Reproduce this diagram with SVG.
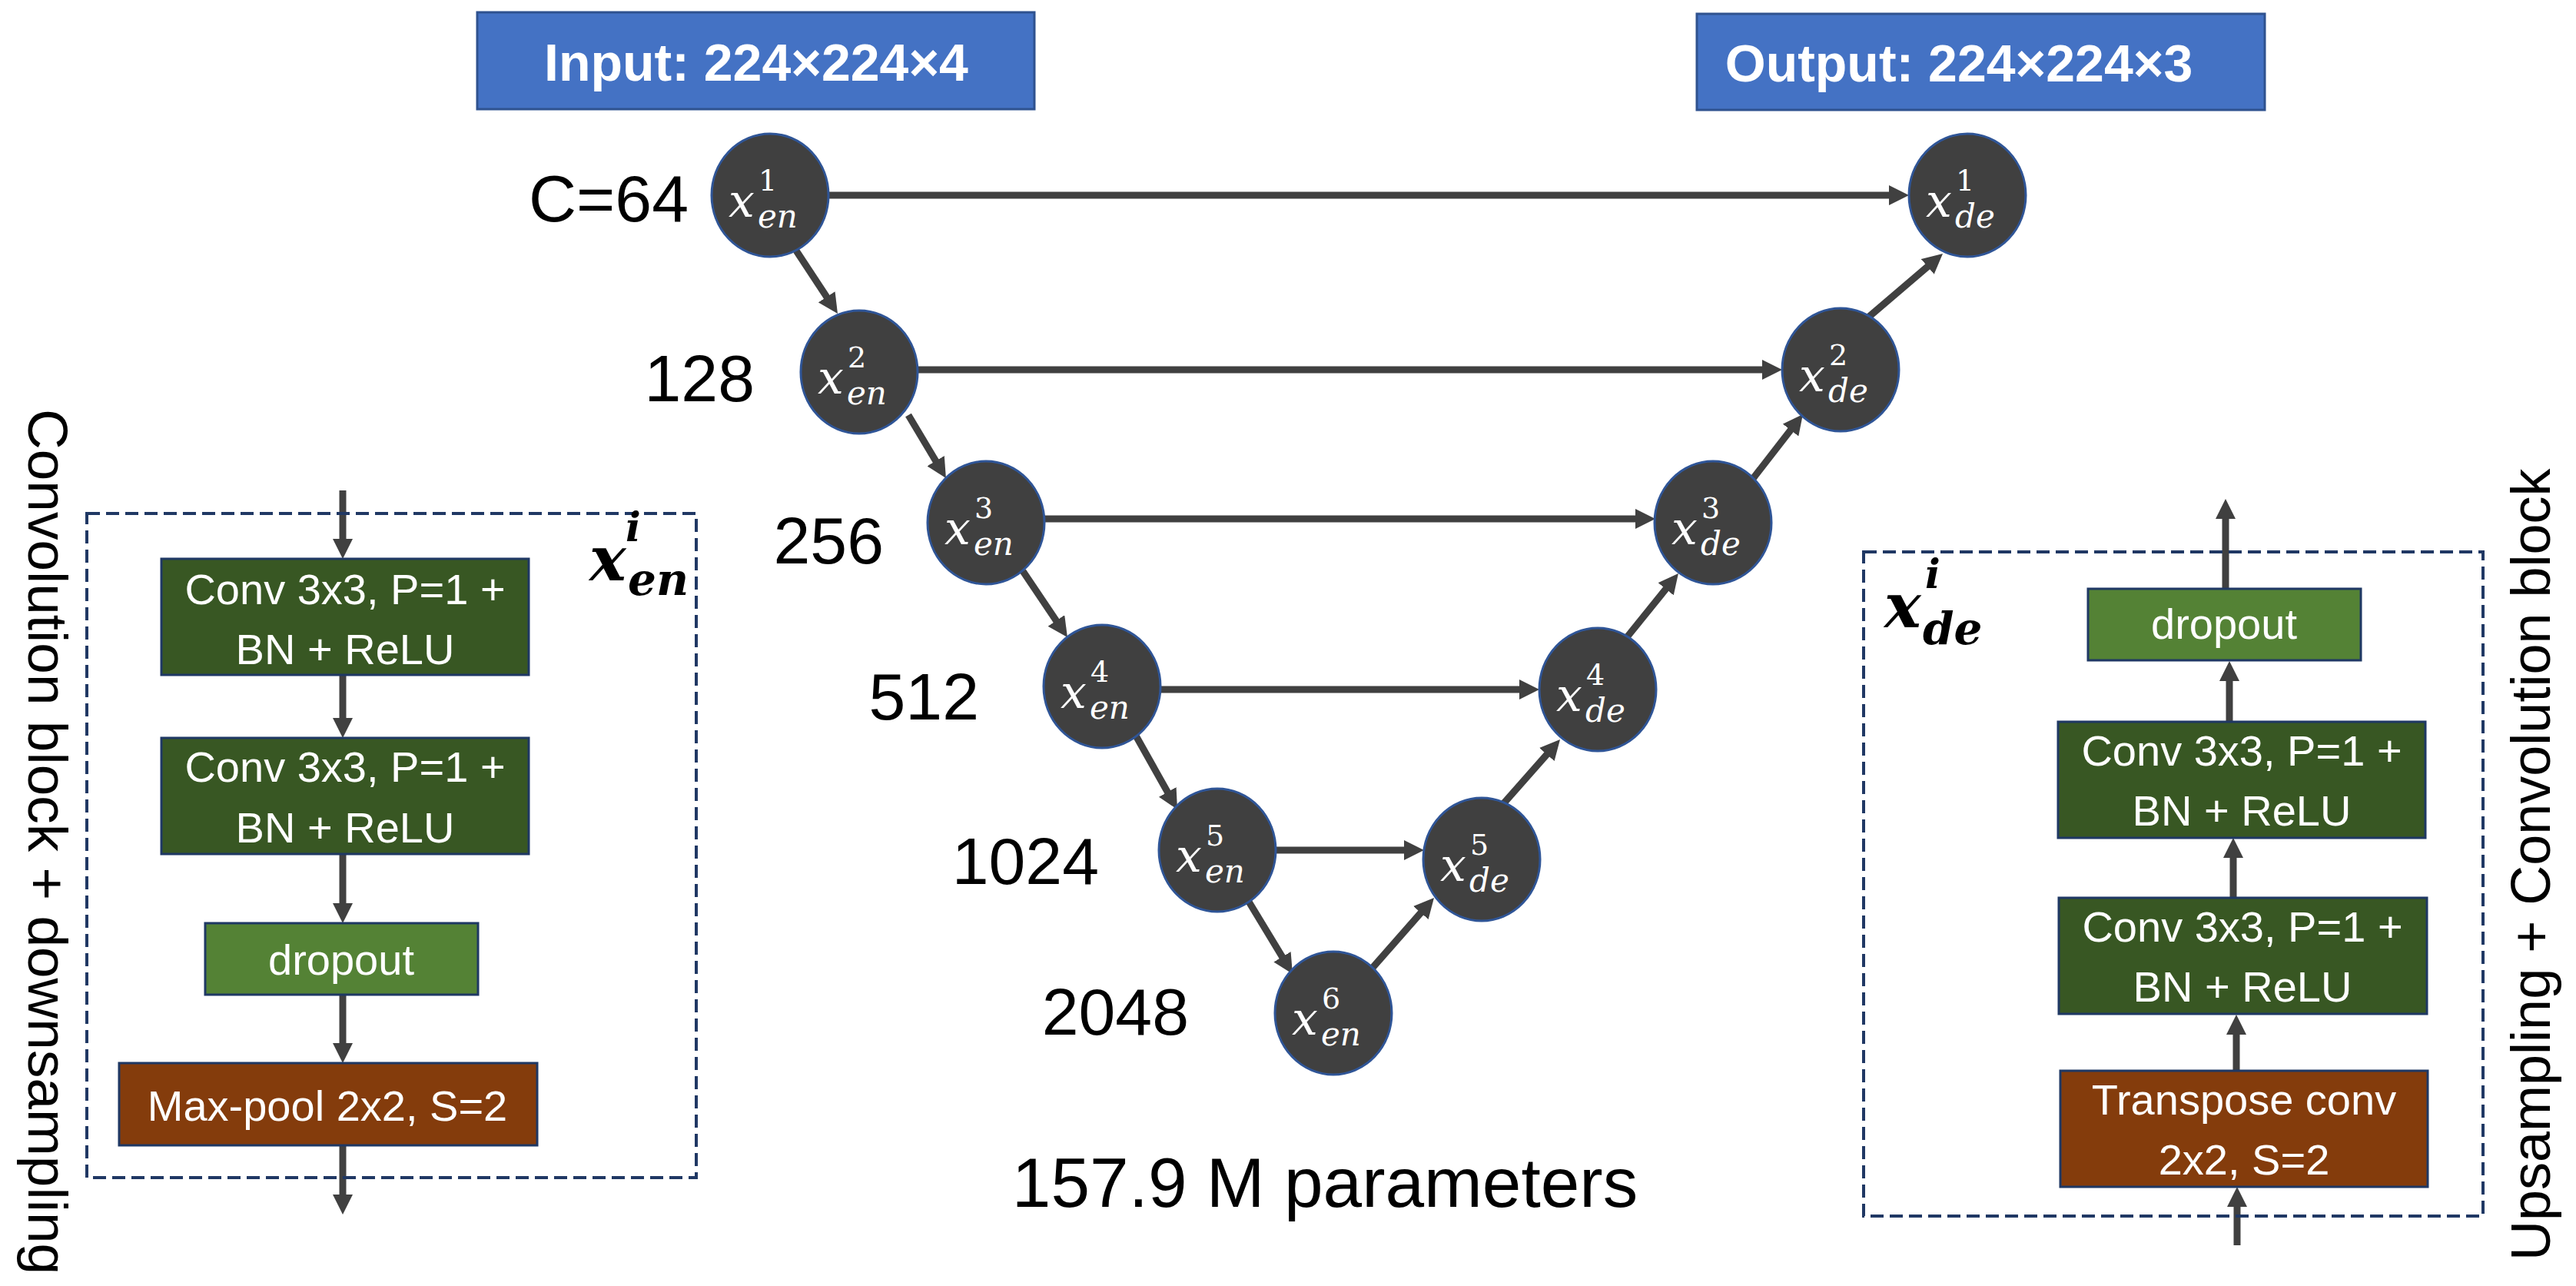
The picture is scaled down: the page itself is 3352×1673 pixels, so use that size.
<svg xmlns="http://www.w3.org/2000/svg" width="3352" height="1673" viewBox="0 0 3352 1673">
<style>
.io{fill:#4472C4;stroke:#2F528F;stroke-width:3}
.iot{font-family:"Liberation Sans",Arial,sans-serif;font-weight:bold;font-size:68px;fill:#fff}
.nd{fill:#404040;stroke:#2F5597;stroke-width:3}
.nx{font-family:"DejaVu Serif",serif;font-style:italic;font-size:60px;fill:#fff}
.ns{font-family:"DejaVu Serif",serif;font-style:italic;font-size:42px;fill:#fff}
.nn{font-family:"DejaVu Serif",serif;font-size:38px;fill:#fff}
.lbl{font-family:"Liberation Sans",Arial,sans-serif;font-size:86px;fill:#000}
.conv{fill:#385723;stroke:#1F3864;stroke-width:3}
.drop{fill:#548235;stroke:#1F3864;stroke-width:3}
.pool{fill:#843C0C;stroke:#1F3864;stroke-width:3}
.bt{font-family:"Liberation Sans",Arial,sans-serif;font-size:56px;fill:#fff;text-anchor:middle}
.dash{fill:none;stroke:#203864;stroke-width:4;stroke-dasharray:17 8}
.side{font-family:"Liberation Sans",Arial,sans-serif;font-size:73px;fill:#000}
.bx{font-family:"DejaVu Serif",serif;font-style:italic;font-weight:bold;fill:#000}
.cn{stroke:#404040;stroke-width:9;fill:none;marker-end:url(#ah)}
</style>
<defs>
<marker id="ah" markerUnits="userSpaceOnUse" markerWidth="26" markerHeight="26" refX="6" refY="13" orient="auto">
<path d="M0,0 L26,13 L0,26 z" fill="#404040"/>
</marker>
</defs>

<g id="input">
<rect class="io" x="621" y="16" width="725" height="126"/>
<text class="iot" x="984" y="105" text-anchor="middle">Input: 224×224×4</text>
</g>
<g id="output">
<rect class="io" x="2208" y="18" width="739" height="125"/>
<text class="iot" x="2549" y="106" text-anchor="middle">Output: 224×224×3</text>
</g>

<g id="labels">
<text class="lbl" x="896" y="288" text-anchor="end">C=64</text>
<text class="lbl" x="982" y="522" text-anchor="end">128</text>
<text class="lbl" x="1150" y="733" text-anchor="end">256</text>
<text class="lbl" x="1274" y="936" text-anchor="end">512</text>
<text class="lbl" x="1430" y="1150" text-anchor="end">1024</text>
<text class="lbl" x="1547" y="1346" text-anchor="end">2048</text>
<text class="lbl" x="1724" y="1570" text-anchor="middle" style="font-size:91px">157.9 M parameters</text>
</g>

<g id="connectors">
<line class="cn" x1="1078" y1="254" x2="2464" y2="254"/>
<line class="cn" x1="1195" y1="481" x2="2299" y2="481"/>
<line class="cn" x1="1358" y1="675" x2="2134" y2="675"/>
<line class="cn" x1="1510" y1="897" x2="1983" y2="897"/>
<line class="cn" x1="1660" y1="1106" x2="1833" y2="1106"/>
<line class="cn" x1="1036" y1="326" x2="1079" y2="391.3"/>
<line class="cn" x1="1182" y1="540" x2="1220.7" y2="604.8"/>
<line class="cn" x1="1331" y1="743" x2="1377.8" y2="812.4"/>
<line class="cn" x1="1478" y1="957" x2="1522.2" y2="1035.6"/>
<line class="cn" x1="1625" y1="1173" x2="1671.6" y2="1249.9"/>
<line class="cn" x1="1786" y1="1259" x2="1852.8" y2="1183"/>
<line class="cn" x1="1955" y1="1047" x2="2016.8" y2="977"/>
<line class="cn" x1="2117" y1="829" x2="2171.4" y2="761.6"/>
<line class="cn" x1="2280" y1="624" x2="2333.7" y2="554.8"/>
<line class="cn" x1="2432" y1="412" x2="2512.8" y2="343"/>
<line class="cn" x1="446" y1="638" x2="446" y2="707"/>
<line class="cn" x1="446" y1="878" x2="446" y2="940"/>
<line class="cn" x1="446" y1="1111" x2="446" y2="1181"/>
<line class="cn" x1="446" y1="1294" x2="446" y2="1363"/>
<line class="cn" x1="446" y1="1490" x2="446" y2="1560"/>
<line class="cn" x1="2911" y1="1620" x2="2911" y2="1564"/>
<line class="cn" x1="2910" y1="1393" x2="2910" y2="1340"/>
<line class="cn" x1="2906" y1="1168" x2="2906" y2="1110"/>
<line class="cn" x1="2901" y1="939" x2="2901" y2="880"/>
<line class="cn" x1="2896" y1="766" x2="2896" y2="669"/>
</g>

<g id="en1"><ellipse class="nd" cx="1002" cy="254" rx="76" ry="80"/><text class="nx" x="948" y="282">x</text><text class="nn" x="987" y="248">1</text><text class="ns" x="986" y="296">en</text></g>
<g id="en2"><ellipse class="nd" cx="1118" cy="484" rx="76" ry="80"/><text class="nx" x="1064" y="512">x</text><text class="nn" x="1103" y="478">2</text><text class="ns" x="1102" y="526">en</text></g>
<g id="en3"><ellipse class="nd" cx="1283" cy="680" rx="76" ry="80"/><text class="nx" x="1229" y="708">x</text><text class="nn" x="1268" y="674">3</text><text class="ns" x="1267" y="722">en</text></g>
<g id="en4"><ellipse class="nd" cx="1434" cy="893" rx="76" ry="80"/><text class="nx" x="1380" y="921">x</text><text class="nn" x="1419" y="887">4</text><text class="ns" x="1418" y="935">en</text></g>
<g id="en5"><ellipse class="nd" cx="1584" cy="1106" rx="76" ry="80"/><text class="nx" x="1530" y="1134">x</text><text class="nn" x="1569" y="1100">5</text><text class="ns" x="1568" y="1148">en</text></g>
<g id="en6"><ellipse class="nd" cx="1735" cy="1318" rx="76" ry="80"/><text class="nx" x="1681" y="1346">x</text><text class="nn" x="1720" y="1312">6</text><text class="ns" x="1719" y="1360">en</text></g>
<g id="de5"><ellipse class="nd" cx="1928" cy="1118" rx="76" ry="80"/><text class="nx" x="1874" y="1146">x</text><text class="nn" x="1913" y="1112">5</text><text class="ns" x="1912" y="1160">de</text></g>
<g id="de4"><ellipse class="nd" cx="2079" cy="897" rx="76" ry="80"/><text class="nx" x="2025" y="925">x</text><text class="nn" x="2064" y="891">4</text><text class="ns" x="2063" y="939">de</text></g>
<g id="de3"><ellipse class="nd" cx="2229" cy="680" rx="76" ry="80"/><text class="nx" x="2175" y="708">x</text><text class="nn" x="2214" y="674">3</text><text class="ns" x="2213" y="722">de</text></g>
<g id="de2"><ellipse class="nd" cx="2395" cy="481" rx="76" ry="80"/><text class="nx" x="2341" y="509">x</text><text class="nn" x="2380" y="475">2</text><text class="ns" x="2379" y="523">de</text></g>
<g id="de1"><ellipse class="nd" cx="2560" cy="254" rx="76" ry="80"/><text class="nx" x="2506" y="282">x</text><text class="nn" x="2545" y="248">1</text><text class="ns" x="2544" y="296">de</text></g>

<g id="encoder-block">
<rect class="dash" x="113" y="668" width="793" height="864"/>
<text class="bx" x="767" y="755" style="font-size:80px">x</text>
<text class="bx" x="814" y="704" style="font-size:52px">i</text>
<text class="bx" x="817" y="774" style="font-size:58px">en</text>
<text class="side" transform="translate(37,532) rotate(90)">Convolution block + downsampling</text>
</g>
<g id="enc-conv1"><rect class="conv" x="210" y="727" width="478" height="151"/><text class="bt" x="449" y="786">Conv 3x3, P=1 +</text><text class="bt" x="449" y="864">BN + ReLU</text></g>
<g id="enc-conv2"><rect class="conv" x="210" y="960" width="478" height="151"/><text class="bt" x="449" y="1017">Conv 3x3, P=1 +</text><text class="bt" x="449" y="1096">BN + ReLU</text></g>
<g id="enc-dropout"><rect class="drop" x="267" y="1201" width="355" height="93"/><text class="bt" x="444" y="1268">dropout</text></g>
<g id="enc-pool"><rect class="pool" x="155" y="1383" width="544" height="107"/><text class="bt" x="426" y="1458">Max-pool 2x2, S=2</text></g>

<g id="decoder-block">
<rect class="dash" x="2425" y="718" width="806" height="864"/>
<text class="bx" x="2452" y="816" style="font-size:80px">x</text>
<text class="bx" x="2505" y="765" style="font-size:52px">i</text>
<text class="bx" x="2502" y="838" style="font-size:58px">de</text>
<text class="side" transform="translate(3318,1640) rotate(-90)" style="font-size:72px">Upsampling + Convolution block</text>
</g>
<g id="dec-dropout"><rect class="drop" x="2717" y="766" width="355" height="93"/><text class="bt" x="2894" y="831">dropout</text></g>
<g id="dec-conv2"><rect class="conv" x="2678" y="939" width="478" height="151"/><text class="bt" x="2917" y="996">Conv 3x3, P=1 +</text><text class="bt" x="2917" y="1074">BN + ReLU</text></g>
<g id="dec-conv1"><rect class="conv" x="2679" y="1168" width="479" height="151"/><text class="bt" x="2918" y="1225">Conv 3x3, P=1 +</text><text class="bt" x="2918" y="1303">BN + ReLU</text></g>
<g id="dec-upconv"><rect class="pool" x="2681" y="1393" width="478" height="151"/><text class="bt" x="2920" y="1450">Transpose conv</text><text class="bt" x="2920" y="1528">2x2, S=2</text></g>
</svg>
